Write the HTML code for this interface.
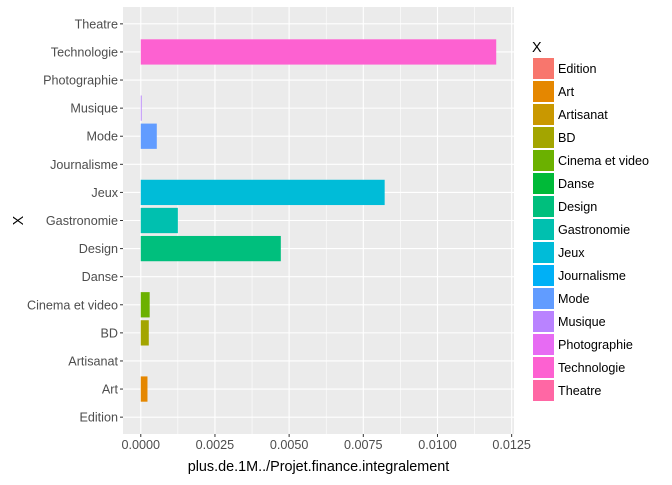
<!DOCTYPE html>
<html><head><meta charset="utf-8"><style>
body{margin:0;background:#fff}
svg text{font-family:"Liberation Sans",Arial,sans-serif}
</style></head><body>
<svg width="672" height="480" viewBox="0 0 672 480">
<g id="chart"></g>
</svg>
<script>
const categories=["Edition","Art","Artisanat","BD","Cinema et video","Danse","Design","Gastronomie","Jeux","Journalisme","Mode","Musique","Photographie","Technologie","Theatre"];
const values=[0,0.000226,0,0.00027,0.0003,0,0.00472,0.00125,0.00822,0,0.00054,0.00003,0,0.01198,0];
const colors=["#F8766D","#E58700","#C99800","#A3A500","#6BB100","#00BA38","#00BF7D","#00C0AF","#00BCD8","#00B0F6","#619CFF","#B983FF","#E76BF3","#FD61D1","#FF67A4"];
const xTicks=[0,0.0025,0.005,0.0075,0.01,0.0125];
const xTickLabels=["0.0000","0.0025","0.0050","0.0075","0.0100","0.0125"];
const NS="http://www.w3.org/2000/svg";
const g=document.getElementById('chart');
function el(t,a,p){const e=document.createElementNS(NS,t);for(const k in a)e.setAttribute(k,a[k]);(p||g).appendChild(e);return e;}
const L=123,R=514,T=7,B=434;
const FS=12.6;
const maxV=Math.max(...values);
const x0=-0.05*maxV,x1=maxV*1.05;
function xs(v){return L+(v-x0)/(x1-x0)*(R-L);}
const n=categories.length,step=(B-T)/(n-1+1.2);
function ys(i){return B-step*(0.6+i);}
let e=el('rect',{x:L,y:T,width:R-L,height:B-T,fill:'#EBEBEB'});

for(let i=0;i<xTicks.length-1;i++){const m=(xTicks[i]+xTicks[i+1])/2;
 e=el('line',{x1:xs(m),x2:xs(m),y1:T,y2:B,stroke:'#fff','stroke-width':0.6});
 }
xTicks.forEach((v,i)=>{
 e=el('line',{x1:xs(v),x2:xs(v),y1:T,y2:B,stroke:'#fff','stroke-width':1.1});
 
 e=el('line',{x1:xs(v),x2:xs(v),y1:B,y2:B+3,stroke:'#333','stroke-width':1});
 
 e=el('text',{x:xs(v),y:B+15,'font-size':FS,fill:'#4D4D4D','text-anchor':'middle'});e.textContent=xTickLabels[i];
 
});
categories.forEach((c,i)=>{
 const y=ys(i);
 e=el('line',{x1:L,x2:R,y1:y,y2:y,stroke:'#fff','stroke-width':1.1});
 
 e=el('line',{x1:L-3,x2:L,y1:y,y2:y,stroke:'#333','stroke-width':1});
 
 e=el('text',{x:L-5,y:y+4.5,'font-size':FS,fill:'#4D4D4D','text-anchor':'end'});e.textContent=c;
 
});
categories.forEach((c,i)=>{
 const y=ys(i),h=step*0.9;
 e=el('rect',{x:xs(0),y:y-h/2,width:Math.max(0,xs(values[i])-xs(0)),height:h,fill:colors[i]});
 
});
e=el('text',{x:(L+R)/2,y:471,'font-size':14.4,fill:'#000','text-anchor':'middle'});e.textContent='plus.de.1M../Projet.finance.integralement';

e=el('text',{x:23,y:(T+B)/2,'font-size':14.4,fill:'#000','text-anchor':'middle',transform:'rotate(-90 23 '+(T+B)/2+')'});e.textContent='X';

e=el('text',{x:532,y:52,'font-size':14.4,fill:'#000'});e.textContent='X';

categories.forEach((c,i)=>{
 const y=58+i*23;
 const lg=el('g',{});
 
 
 el('rect',{x:533,y:y,width:21,height:21,fill:colors[i]},lg);
 const t=el('text',{x:558,y:y+15,'font-size':FS,fill:'#000'},lg);t.textContent=c;
});
</script>
</body></html>
